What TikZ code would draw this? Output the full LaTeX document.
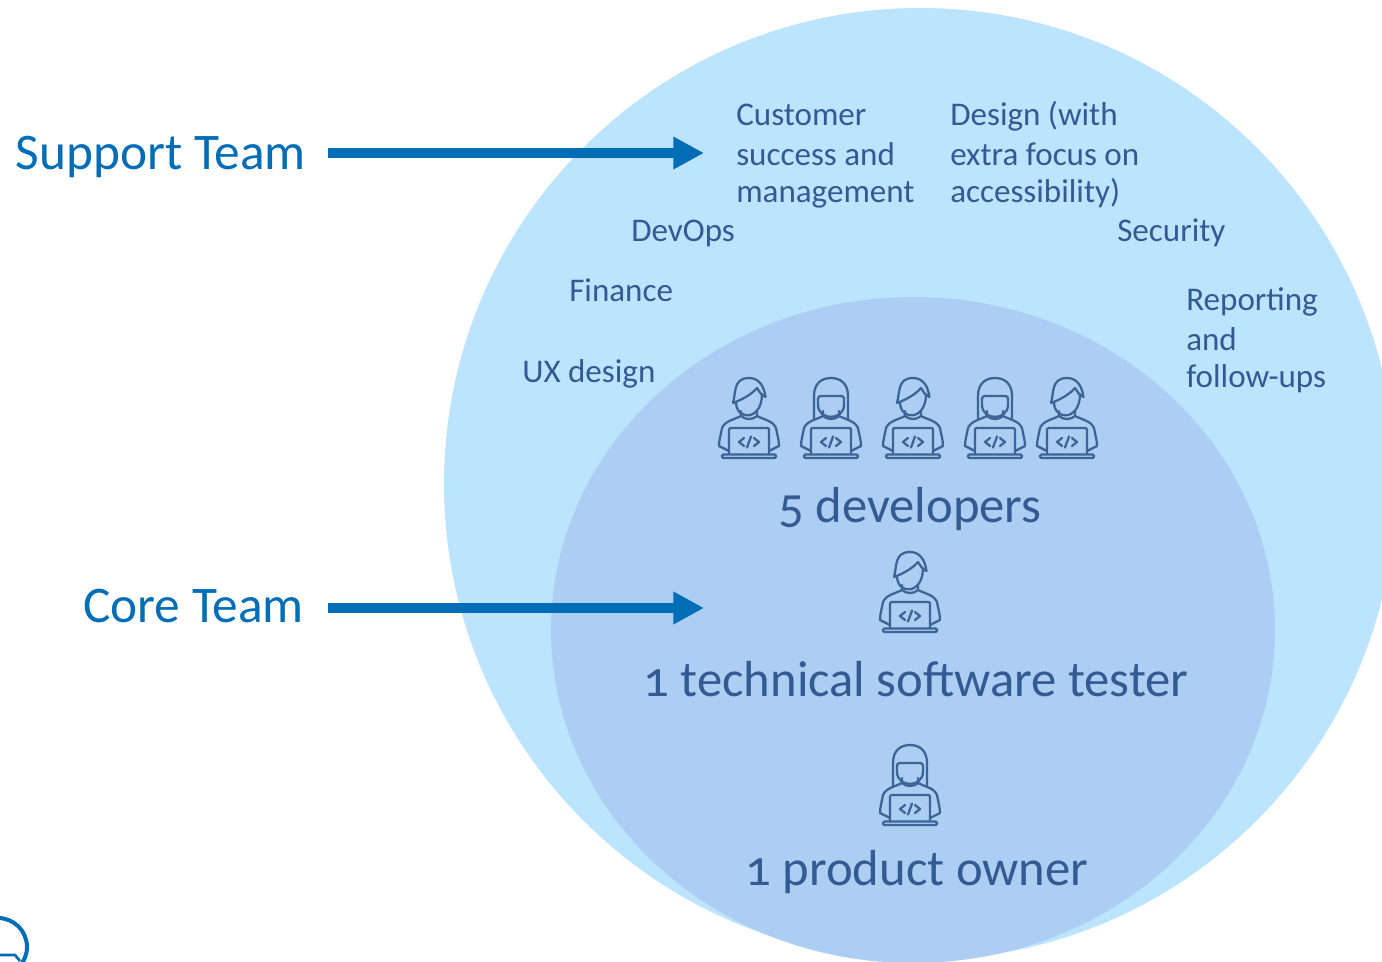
\documentclass[tikz,border=0pt]{standalone}
\usepackage{fontspec}
\setmainfont[Numbers=OldStyle]{Carlito}
\usetikzlibrary{arrows.meta}
\definecolor{outerc}{HTML}{BDE4FF}
\definecolor{innerc}{HTML}{ABCEF2}
\definecolor{inkc}{HTML}{335A92}
\definecolor{bluec}{HTML}{006DB6}
\definecolor{iconc}{HTML}{3C6496}
\tikzset{
  x=0.75pt,y=-0.75pt,
  label big/.style={text=bluec,font=\fontsize{38.5}{42}\selectfont,anchor=base east,inner sep=0pt},
  label small/.style={text=inkc,font=\fontsize{24.8}{28.5}\selectfont,anchor=base west,inner sep=0pt,align=left},
  label mid/.style={text=inkc,font=\fontsize{38}{42}\selectfont,anchor=base,inner sep=0pt},
  big arrow/.style={draw=bluec,line width=7.5pt,-{Triangle[length=23pt,width=23pt,sep=0pt]}},
  icon line/.style={draw=iconc,line width=1.7pt,line cap=round,line join=round},
  body/.pic={
    \draw[icon line] (-8,33) -- (-8,38) .. controls (-16,42) and (-24,43) .. (-27,50) .. controls (-28,56) and (-30,62) .. (-30,68) -- (-20,73);
    \draw[icon line] (8,33) -- (8,38) .. controls (16,42) and (24,43) .. (27,50) .. controls (28,56) and (30,62) .. (30,68) -- (20,73);
    \draw[icon line] (-8,38) .. controls (-4,42) and (4,42) .. (8,38);
    \draw[icon line,rounded corners=1pt] (-20,76) -- (-20,50) -- (20,50) -- (20,76);
    \draw[icon line,rounded corners=1pt] (-27,76.5) -- (27,76.5) -- (27,80) -- (-27,80) -- cycle;
    \draw[icon line] (-5,60) -- (-10,64) -- (-5,68) (5,60) -- (10,64) -- (5,68) (2,58.5) -- (-2,69.5);
  },
  man/.pic={
    \pic {body};
    \draw[icon line] (-16,25) .. controls (-13,15) and (-16,0) .. (0,0) .. controls (10,0) and (15,8) .. (16.5,19) -- (12,16) -- (8,10) .. controls (2,17) and (-8,22) .. (-16,25);
    \draw[icon line] (-13,24) .. controls (-13,43) and (13,43) .. (13,16);
  },
  woman/.pic={
    \pic {body};
    \draw[icon line] (-17,41) -- (-17,18) .. controls (-17,5) and (-9,0) .. (0,0) .. controls (9,0) and (17,5) .. (17,18) -- (17,41);
    \draw[icon line,rounded corners=2pt] (-13,18) -- (13,18) -- (13,24) .. controls (13,43) and (-13,43) .. (-13,24) -- cycle;
  },
}
\begin{document}
\begin{tikzpicture}
\useasboundingbox (0,0) rectangle (1382,961);
\begin{scope}
\clip (0,0) rectangle (1382,961);
\fill[outerc] (920,484) circle[radius=476];
\fill[innerc] (913,630) ellipse[x radius=362,y radius=333];
\draw[draw=bluec,line width=3pt] (-2,947) circle[radius=29];
\draw[draw=bluec,line width=2pt] (0,955) -- (15,955) -- (20,961);
\end{scope}
\node[label big] (support) at (306,169) {Support Team};
\node[label big] (core) at (304,622) {Core Team};
\coordinate (supportend) at (704,153);
\coordinate (coreend) at (704,608);
\coordinate (supportstart) at (328,153);
\coordinate (corestart) at (328,608);
\draw[big arrow] (supportstart) -- (supportend);
\draw[big arrow] (corestart) -- (coreend);
\node[label small] (customer) at (736,202) {Customer\\[1.5pt]success and\\[-0.75pt]management};
\node[label small] (design) at (950,202) {Design (with\\[1.5pt]extra focus on\\[-0.75pt]accessibility)};
\node[label small] (devops) at (631,241) {DevOps};
\node[label small] (security) at (1117,241) {Security};
\node[label small] (finance) at (569,301) {Finance};
\node[label small] (reporting) at (1186,387) {Reporting\\[1.5pt]and\\[-0.75pt]follow-ups};
\node[label small] (ux) at (522,382) {UX design};
\pic at (749,378) {man};
\pic at (831,378) {woman};
\pic at (913,378) {man};
\pic at (995,378) {woman};
\pic at (1067,378) {man};
\pic at (910,552) {man};
\pic at (910,745) {woman};
\node[label mid] (devs) at (910,522) {5 developers};
\node[label mid] (tester) at (916,696) {1 technical software tester};
\node[label mid] (owner) at (917,885) {1 product owner};
\end{tikzpicture}
\end{document}
